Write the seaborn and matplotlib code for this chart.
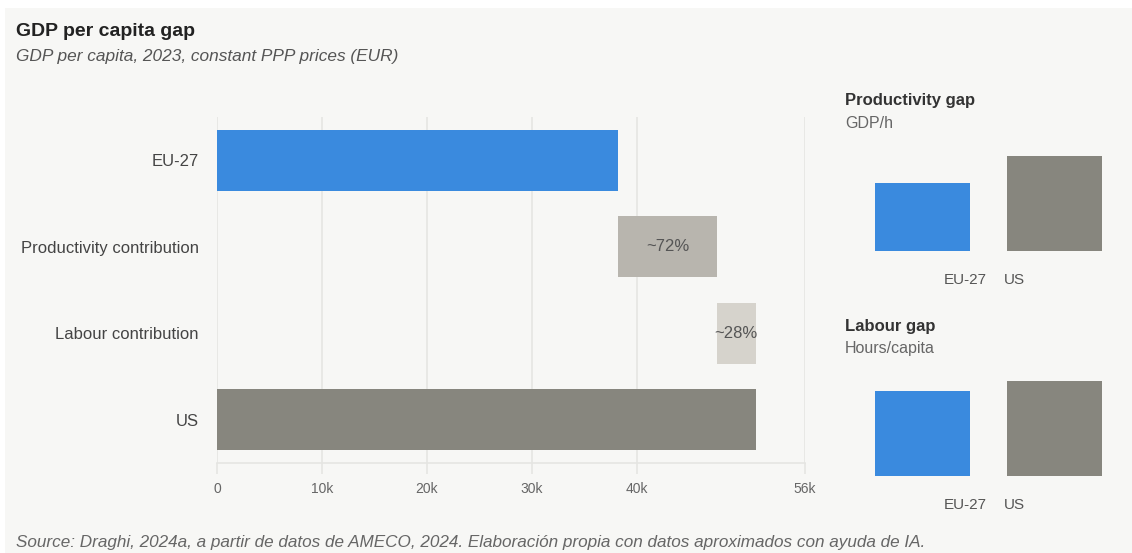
import matplotlib
matplotlib.use("Agg")
import matplotlib.pyplot as plt
from matplotlib.patches import Rectangle
from matplotlib.transforms import blended_transform_factory
import seaborn as sns
import pandas as pd

# ---- data ----
categories = ["EU-27", "Productivity contribution", "Labour contribution", "US"]
bar_start = [0, 38.2, 47.6, 0]          # thousand EUR
bar_end = [38.2, 47.6, 51.3, 51.3]      # thousand EUR
bar_labels = ["", "~72%", "~28%", ""]
x_ticks = [0, 10, 20, 30, 40, 56]
x_ticklabels = ["0", "10k", "20k", "30k", "40k", "56k"]

regions = ["EU-27", "US"]
productivity_index = [71.6, 100]        # GDP/h, US = 100 (approx.)
hours_index = [89.5, 100]               # Hours/capita, US = 100 (approx.)

BLUE = "#3a8ade"
GREY = "#87867e"
PROD = "#b8b5ae"
LAB = "#d6d3cc"
BG = "#f7f7f5"
GRID = "#e5e5e2"
W, H = 1132, 553

sns.set_theme(style="white")
plt.rcParams["font.family"] = ["Liberation Sans", "DejaVu Sans"]

fig = plt.figure(figsize=(W / 100, H / 100), dpi=100, facecolor="white")
fig.patches.append(Rectangle((5 / W, 0), 1, 545 / H, transform=fig.transFigure,
                             facecolor=BG, edgecolor="none", zorder=-10))


def fx(px):
    return px / W


def fy(py):
    return 1 - py / H


# ---- main waterfall ----
ax = fig.add_axes([fx(217), fy(463), fx(805) - fx(217), fy(117) - fy(463)])
ax.set_facecolor("none")
df = pd.DataFrame({"cat": categories, "end": bar_end})
sns.barplot(data=df, y="cat", x="end", hue="cat", orient="h",
            palette=[BLUE, PROD, LAB, GREY], width=0.71, legend=False, ax=ax,
            zorder=3, saturation=1)
for patch, s, e in zip(ax.patches, bar_start, bar_end):
    patch.set_x(s)
    patch.set_width(e - s)
    patch.set_edgecolor("none")
for i, (s, e, lab) in enumerate(zip(bar_start, bar_end, bar_labels)):
    if lab:
        ax.text((s + e) / 2, i, lab, ha="center", va="center", fontsize=12,
                color="#555555", zorder=5)

ax.set_xlim(0, 56)
ax.set_ylim(3.5, -0.5)
ax.set_xticks(x_ticks)
ax.set_xticklabels(x_ticklabels)
ax.grid(axis="x", color=GRID, linewidth=1.2, zorder=0)
ax.grid(axis="y", visible=False)
for s in ["top", "right", "left"]:
    ax.spines[s].set_visible(False)
ax.spines["bottom"].set_color(GRID)
ax.spines["bottom"].set_linewidth(1.2)
ax.tick_params(axis="x", length=8, width=1.2, color=GRID, labelcolor="#666666",
               labelsize=10, pad=6, bottom=True)
ax.tick_params(axis="y", length=0, labelcolor="#444444", labelsize=12, pad=13)
ax.set_xlabel("")
ax.set_ylabel("")

# ---- small panels ----
def small_panel(top_px, bottom_px, values, title, subtitle, title_y, label_y):
    a = fig.add_axes([fx(856.5), fy(bottom_px), fx(1120.5) - fx(856.5),
                      fy(top_px) - fy(bottom_px)])
    a.set_facecolor("none")
    d = pd.DataFrame({"region": regions, "value": values})
    sns.barplot(data=d, x="region", y="value", hue="region",
                palette=[BLUE, GREY], width=0.72, legend=False, ax=a,
                saturation=1)
    for p in a.patches:
        p.set_edgecolor("none")
    a.set_xlim(-0.5, 1.5)
    a.set_ylim(0, 100 * (bottom_px - top_px) / 95)
    a.axis("off")
    fig.text(fx(845), fy(title_y), title, fontsize=12, fontweight="bold",
             color="#333333", va="center")
    fig.text(fx(845), fy(title_y + 22), subtitle, fontsize=11.5,
             color="#666666", va="center")
    tr = blended_transform_factory(a.transData, fig.transFigure)
    a.text(0.5 - 0.01, fy(label_y), regions[0], transform=tr, ha="right",
           va="center", fontsize=11, color="#555555")
    a.text(0.5 + 0.12, fy(label_y), regions[1], transform=tr, ha="left",
           va="center", fontsize=11, color="#555555")


small_panel(140, 251, productivity_index, "Productivity gap", "GDP/h", 101, 280)
small_panel(365, 476, hours_index, "Labour gap", "Hours/capita", 326, 505)

# ---- titles ----
fig.text(fx(16), fy(31), "GDP per capita gap", fontsize=14, fontweight="bold",
         color="#222222", va="center")
fig.text(fx(16), fy(57), "GDP per capita, 2023, constant PPP prices (EUR)",
         fontsize=12.4, style="italic", color="#555555", va="center")
fig.text(fx(16), fy(542),
         "Source: Draghi, 2024a, a partir de datos de AMECO, 2024. Elaboración propia con datos aproximados con ayuda de IA.",
         fontsize=12.3, style="italic", color="#666666", va="center")

fig.savefig("out.png", dpi=100, facecolor=fig.get_facecolor())
